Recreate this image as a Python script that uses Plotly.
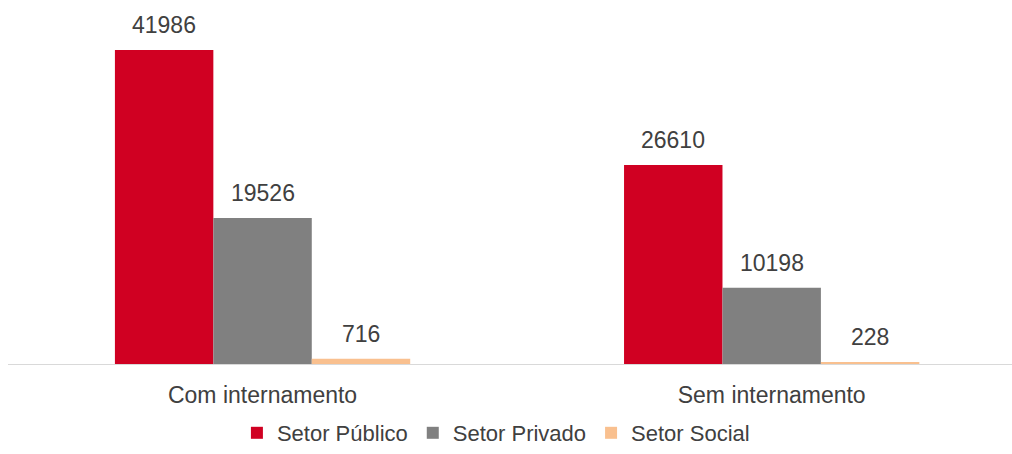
import plotly.graph_objects as go

categories = ["Com internamento", "Sem internamento"]
series_names = ["Setor Público", "Setor Privado", "Setor Social"]
publico = [41986, 26610]
privado = [19526, 10198]
social = [716, 228]
values = [publico, privado, social]
colors = ["#D00022", "#808080", "#F9C08F"]

FONT = "Liberation Sans, Arial, sans-serif"
TXT = "#404040"
BARGAP = 0.42
nser = len(series_names)
bw = (1 - BARGAP) / nser

fig = go.Figure()
for name, vals, col in zip(series_names, values, colors):
    fig.add_trace(go.Bar(x=categories, y=vals, name=name, marker_color=col,
                         marker_line_width=0))

annotations = []
for si, vals in enumerate(values):
    off = (si - (nser - 1) / 2) * bw
    for ci, v in enumerate(vals):
        annotations.append(dict(x=ci + off, y=v, xref="x", yref="y", text=str(v),
                                showarrow=False, yanchor="bottom", yshift=10,
                                font=dict(family=FONT, size=23, color=TXT)))

fig.update_layout(
    width=1012, height=454,
    margin=dict(l=8, r=0, t=10, b=90, autoexpand=False),
    paper_bgcolor="white", plot_bgcolor="white",
    barmode="group", bargap=BARGAP, bargroupgap=0,
    annotations=annotations,
    font=dict(family=FONT, size=23, color=TXT),
    xaxis=dict(type="category", range=[-0.5, 1.472], showgrid=False,
               showline=True, linecolor="#D9D9D9", linewidth=1,
               ticks="", ticklabelstandoff=10, tickfont=dict(size=23, color=TXT)),
    yaxis=dict(range=[0, 47342], visible=False, showgrid=False, zeroline=False),
    legend=dict(orientation="h", x=0.228, xanchor="left",
                yref="container", y=-0.011, yanchor="bottom",
                font=dict(size=22, color=TXT), bgcolor="rgba(0,0,0,0)"),
    showlegend=True,
)

fig.write_html("out.html")
